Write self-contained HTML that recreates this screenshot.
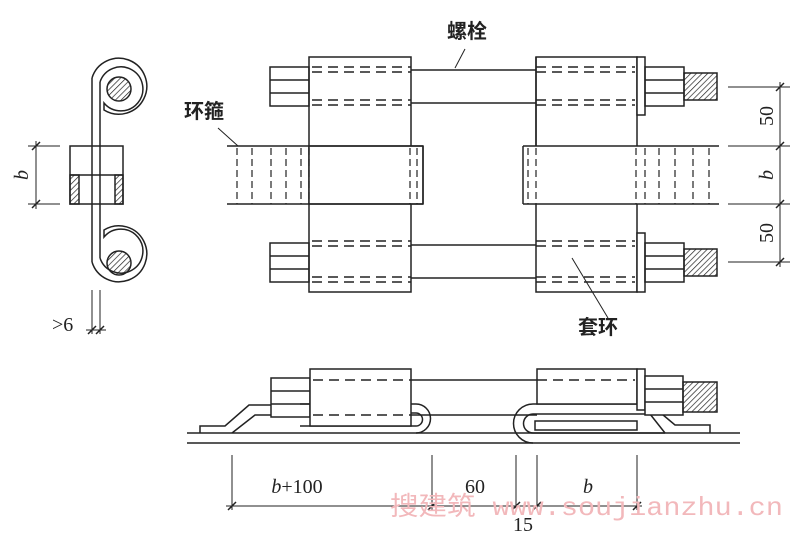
<!DOCTYPE html>
<html><head><meta charset="utf-8"><style>html,body{margin:0;padding:0;background:#fff}svg{display:block}</style></head><body>
<svg width="800" height="536" viewBox="0 0 800 536" xmlns="http://www.w3.org/2000/svg" fill="none" stroke="#222" stroke-width="1.5" font-family="'Liberation Serif','Noto Serif CJK SC',serif">
<defs>
<pattern id="h" width="4" height="4" patternUnits="userSpaceOnUse" patternTransform="rotate(45)"><line x1="0" y1="0" x2="0" y2="4" stroke="#222" stroke-width="1.4"/></pattern>
</defs>
<!-- LEFT SIDE VIEW -->
<g>
<line x1="92" y1="78" x2="92" y2="262"/><line x1="100" y1="82" x2="100" y2="258"/>
<path d="M92,78 A28,28 0 1 1 104,110 L104,103 A22,22 0 1 0 100,82"/>
<circle cx="119" cy="89" r="12" fill="url(#h)"/>
<path d="M92,262 A28,28 0 1 0 104,230 L104,237 A22,22 0 1 1 100,258"/>
<circle cx="119" cy="263" r="12" fill="url(#h)"/>
<rect x="70" y="146" width="53" height="58" fill="#fff"/>
<line x1="92" y1="146" x2="92" y2="204"/><line x1="100" y1="146" x2="100" y2="204"/>
<line x1="70" y1="175" x2="123" y2="175"/>
<rect x="70" y="175" width="9" height="29" fill="url(#h)"/><rect x="115" y="175" width="8" height="29" fill="url(#h)"/>
<line x1="28" y1="146" x2="60" y2="146" stroke-width="1"/><line x1="28" y1="204" x2="60" y2="204" stroke-width="1"/>
<line x1="36" y1="141" x2="36" y2="209" stroke-width="1"/>
<line x1="32" y1="150" x2="40" y2="142"/><line x1="32" y1="208" x2="40" y2="200"/>
<line x1="92" y1="290" x2="92" y2="334" stroke-width="1"/><line x1="100" y1="290" x2="100" y2="334" stroke-width="1"/>
<line x1="86" y1="330" x2="106" y2="330" stroke-width="1"/>
<line x1="88" y1="334" x2="96" y2="326"/><line x1="96" y1="334" x2="104" y2="326"/>
</g>
<g fill="#222" stroke="none" font-size="20">
<text x="28" y="175" font-style="italic" transform="rotate(-90 28 175)" text-anchor="middle">b</text>
<text x="52" y="331">&gt;6</text>
</g>
<!-- TOP VIEW -->
<g>
<!-- bolts -->
<line x1="411" y1="70" x2="536" y2="70"/><line x1="411" y1="103" x2="536" y2="103"/>
<line x1="411" y1="245" x2="536" y2="245"/><line x1="411" y1="278" x2="536" y2="278"/>
<!-- left nuts -->
<rect x="270" y="67" width="39" height="39"/><line x1="270" y1="80" x2="309" y2="80"/><line x1="270" y1="93" x2="309" y2="93"/>
<rect x="270" y="243" width="39" height="39"/><line x1="270" y1="256" x2="309" y2="256"/><line x1="270" y1="269" x2="309" y2="269"/>
<!-- left block -->
<rect x="309" y="57" width="102" height="235"/>
<g stroke-dasharray="10,6">
<line x1="312" y1="67" x2="411" y2="67"/><line x1="312" y1="72" x2="411" y2="72"/>
<line x1="312" y1="100" x2="411" y2="100"/><line x1="312" y1="105" x2="411" y2="105"/>
<line x1="312" y1="241" x2="411" y2="241"/><line x1="312" y1="246" x2="411" y2="246"/>
<line x1="312" y1="277" x2="411" y2="277"/><line x1="312" y1="282" x2="411" y2="282"/>
</g>
<!-- left band -->
<rect x="309" y="146" width="114" height="58" fill="#fff"/>
<line x1="227" y1="146" x2="423" y2="146"/><line x1="227" y1="204" x2="423" y2="204"/><line x1="423" y1="146" x2="423" y2="204"/>
<g stroke-dasharray="7,4" stroke-width="1.2">
<line x1="237" y1="148" x2="237" y2="204"/><line x1="252" y1="148" x2="252" y2="204"/><line x1="271" y1="148" x2="271" y2="204"/><line x1="286" y1="148" x2="286" y2="204"/><line x1="301" y1="148" x2="301" y2="204"/><line x1="309" y1="148" x2="309" y2="204"/><line x1="410" y1="148" x2="410" y2="204"/><line x1="417" y1="148" x2="417" y2="204"/>
</g>
<!-- right block -->
<rect x="536" y="57" width="101" height="235"/>
<g stroke-dasharray="10,6">
<line x1="536" y1="67" x2="635" y2="67"/><line x1="536" y1="72" x2="635" y2="72"/>
<line x1="536" y1="100" x2="635" y2="100"/><line x1="536" y1="105" x2="635" y2="105"/>
<line x1="536" y1="241" x2="635" y2="241"/><line x1="536" y1="246" x2="635" y2="246"/>
<line x1="536" y1="277" x2="635" y2="277"/><line x1="536" y1="282" x2="635" y2="282"/>
</g>
<rect x="637" y="57" width="8" height="58" fill="#fff"/><rect x="637" y="233" width="8" height="59" fill="#fff"/>
<rect x="645" y="67" width="39" height="39"/><line x1="645" y1="80" x2="684" y2="80"/><line x1="645" y1="93" x2="684" y2="93"/>
<rect x="645" y="243" width="39" height="39"/><line x1="645" y1="256" x2="684" y2="256"/><line x1="645" y1="269" x2="684" y2="269"/>
<rect x="684" y="73" width="33" height="27" fill="url(#h)"/><rect x="684" y="249" width="33" height="27" fill="url(#h)"/>
<!-- right band -->
<rect x="523" y="146" width="196" height="58" fill="#fff" stroke="none"/>
<line x1="523" y1="146" x2="719" y2="146"/><line x1="523" y1="204" x2="719" y2="204"/><line x1="523" y1="146" x2="523" y2="204"/>
<line x1="536" y1="57" x2="536" y2="146"/>
<g stroke-dasharray="7,4" stroke-width="1.2">
<line x1="528" y1="148" x2="528" y2="204"/><line x1="536" y1="148" x2="536" y2="204"/><line x1="636" y1="148" x2="636" y2="204"/><line x1="645" y1="148" x2="645" y2="204"/><line x1="659" y1="148" x2="659" y2="204"/><line x1="675" y1="148" x2="675" y2="204"/><line x1="693" y1="148" x2="693" y2="204"/><line x1="709" y1="148" x2="709" y2="204"/>
</g>
<!-- dims right -->
<g stroke-width="1">
<line x1="728" y1="87" x2="790" y2="87"/><line x1="728" y1="146" x2="790" y2="146"/><line x1="728" y1="204" x2="790" y2="204"/><line x1="728" y1="262" x2="790" y2="262"/>
<line x1="780" y1="82" x2="780" y2="267"/>
</g>
<line x1="776" y1="91" x2="784" y2="83"/><line x1="776" y1="150" x2="784" y2="142"/><line x1="776" y1="208" x2="784" y2="200"/><line x1="776" y1="266" x2="784" y2="258"/>
<!-- leaders -->
<line x1="455" y1="68" x2="465" y2="49" stroke-width="1"/>
<line x1="218" y1="128" x2="238" y2="146" stroke-width="1"/>
<line x1="572" y1="258" x2="608" y2="318" stroke-width="1"/>
</g>
<g fill="#222" stroke="none" font-size="20">
<text x="447" y="38" font-family="'Noto Sans CJK SC',sans-serif" font-weight="bold">螺栓</text>
<text x="184" y="118" font-family="'Noto Sans CJK SC',sans-serif" font-weight="bold">环箍</text>
<text x="578" y="334" font-family="'Noto Sans CJK SC',sans-serif" font-weight="bold">套环</text>
<text x="773" y="116" transform="rotate(-90 773 116)" text-anchor="middle">50</text>
<text x="773" y="175" transform="rotate(-90 773 175)" text-anchor="middle" font-style="italic">b</text>
<text x="773" y="233" transform="rotate(-90 773 233)" text-anchor="middle">50</text>
</g>
<!-- BOTTOM VIEW -->
<g>
<line x1="187" y1="433" x2="740" y2="433"/><line x1="187" y1="443" x2="740" y2="443"/>
<line x1="411" y1="380" x2="537" y2="380"/><line x1="411" y1="415" x2="537" y2="415"/>
<path d="M200,433 L200,426 L225,426 L249,405 L271,405"/>
<path d="M232,433 L255,415 L271,415"/>
<rect x="271" y="378" width="39" height="39" fill="#fff"/><line x1="271" y1="391" x2="310" y2="391"/><line x1="271" y1="404" x2="310" y2="404"/>
<path d="M300,404 L416,404 A14.5,14.5 0 0 1 416,433"/>
<path d="M310,413 L416,413 A6.5,6.5 0 0 1 416,426 L300,426"/>
<rect x="310" y="369" width="101" height="57" fill="#fff"/>
<line x1="313" y1="380" x2="411" y2="380" stroke-dasharray="10,6"/><line x1="313" y1="415" x2="411" y2="415" stroke-dasharray="10,6"/>
<path d="M650,404 L533,404 A19.5,19.5 0 0 0 533,443"/>
<path d="M650,414 L533,414 A9.5,9.5 0 0 0 533,433 L665,433"/>
<path d="M650,404 L675,425 L710,425 L710,433"/>
<path d="M650,414 L665,433"/>
<rect x="537" y="369" width="100" height="35" fill="#fff"/>
<line x1="537" y1="380" x2="635" y2="380" stroke-dasharray="10,6"/>
<rect x="535" y="421" width="102" height="9"/>
<rect x="637" y="369" width="8" height="41" fill="#fff"/>
<rect x="645" y="376" width="38" height="39" fill="#fff"/><line x1="645" y1="389" x2="683" y2="389"/><line x1="645" y1="402" x2="683" y2="402"/>
<rect x="683" y="382" width="34" height="30" fill="url(#h)"/>
<g stroke-width="1">
<line x1="232" y1="455" x2="232" y2="510"/><line x1="432" y1="455" x2="432" y2="510"/><line x1="516" y1="455" x2="516" y2="512"/><line x1="537" y1="455" x2="537" y2="510"/><line x1="637" y1="455" x2="637" y2="510"/>
<line x1="226" y1="506" x2="642" y2="506"/>
</g>
<line x1="228" y1="510" x2="236" y2="502"/><line x1="428" y1="510" x2="436" y2="502"/><line x1="512" y1="510" x2="520" y2="502"/><line x1="533" y1="510" x2="541" y2="502"/><line x1="633" y1="510" x2="641" y2="502"/>
</g>
<g fill="#222" stroke="none" font-size="20">
<text x="297" y="493" text-anchor="middle"><tspan font-style="italic">b</tspan>+100</text>
<text x="475" y="493" text-anchor="middle">60</text>
<text x="523" y="531" text-anchor="middle">15</text>
<text x="588" y="493" text-anchor="middle" font-style="italic">b</text>
</g>
<text x="390" y="515" fill="#f2b8bb" stroke="none" font-size="26" font-family="'Liberation Mono','Noto Sans CJK SC',monospace" textLength="393" lengthAdjust="spacingAndGlyphs">搜建筑 www.soujianzhu.cn</text>
</svg>
</body></html>
